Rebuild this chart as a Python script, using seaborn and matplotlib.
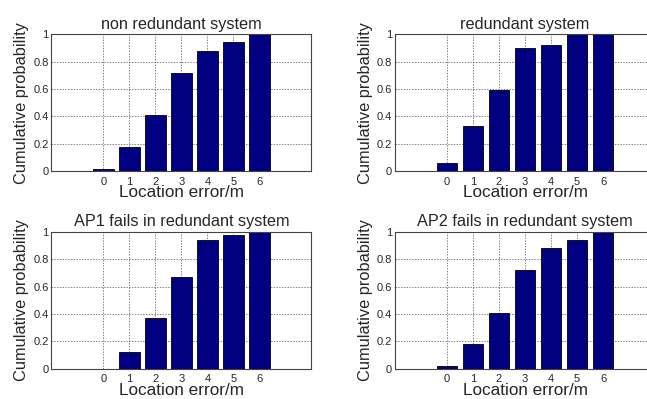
import pandas as pd
import seaborn as sns
import matplotlib.pyplot as plt

errors = [0, 1, 2, 3, 4, 5, 6]
non_redundant = [0.02, 0.18, 0.41, 0.72, 0.88, 0.94, 1.0]
redundant = [0.06, 0.33, 0.59, 0.90, 0.92, 1.0, 1.0]
ap1_fails = [0.0, 0.12, 0.37, 0.67, 0.94, 0.98, 1.0]
ap2_fails = [0.02, 0.18, 0.41, 0.72, 0.88, 0.94, 1.0]
titles = ["non redundant system", "redundant system",
          "AP1 fails in redundant system", "AP2 fails in redundant system"]
yticks = [0, 0.2, 0.4, 0.6, 0.8, 1]

sns.set_style("white")
plt.rcParams["font.family"] = ["Liberation Sans", "DejaVu Sans"]

fig = plt.figure(figsize=(6.47, 3.99), dpi=100)

# axes boxes in figure fractions (left, bottom, width, height)
boxes = [
    [0.0793, 0.5707, 0.4019, 0.3434],
    [0.6105, 0.5707, 0.4019, 0.3434],
    [0.0793, 0.0759, 0.4019, 0.3426],
    [0.6105, 0.0759, 0.4019, 0.3426],
]

series = [non_redundant, redundant, ap1_fails, ap2_fails]

for box, vals, title in zip(boxes, series, titles):
    ax = fig.add_axes(box)
    df = pd.DataFrame({"err": errors, "p": vals})
    sns.barplot(data=df, x="err", y="p", native_scale=True, width=0.8,
                color="#000080", saturation=1, edgecolor="black",
                linewidth=0.6, ax=ax)
    ax.set_xlim(-2, 8)
    ax.set_ylim(0, 1)
    ax.set_xticks(errors)
    ax.set_yticks(yticks)
    ax.set_yticklabels([f"{t:g}" for t in yticks])
    ax.set_axisbelow(True)
    ax.grid(True, linestyle=(0, (2, 2)), color="black", linewidth=0.5, alpha=0.7)
    ax.tick_params(direction="in", length=3, labelsize=8, color="#444444")
    ax.tick_params(axis="x", pad=4)
    ax.tick_params(axis="y", pad=2)
    for s in ax.spines.values():
        s.set_color("#444444")
        s.set_linewidth(0.8)
    ax.set_title(title, fontsize=11.7, pad=4)
    ax.set_xlabel("Location error/m", fontsize=12.3, labelpad=-1)
    ax.set_ylabel("Cumulative probability", fontsize=11.8, labelpad=3)

fig.savefig("out.png", dpi=100)
